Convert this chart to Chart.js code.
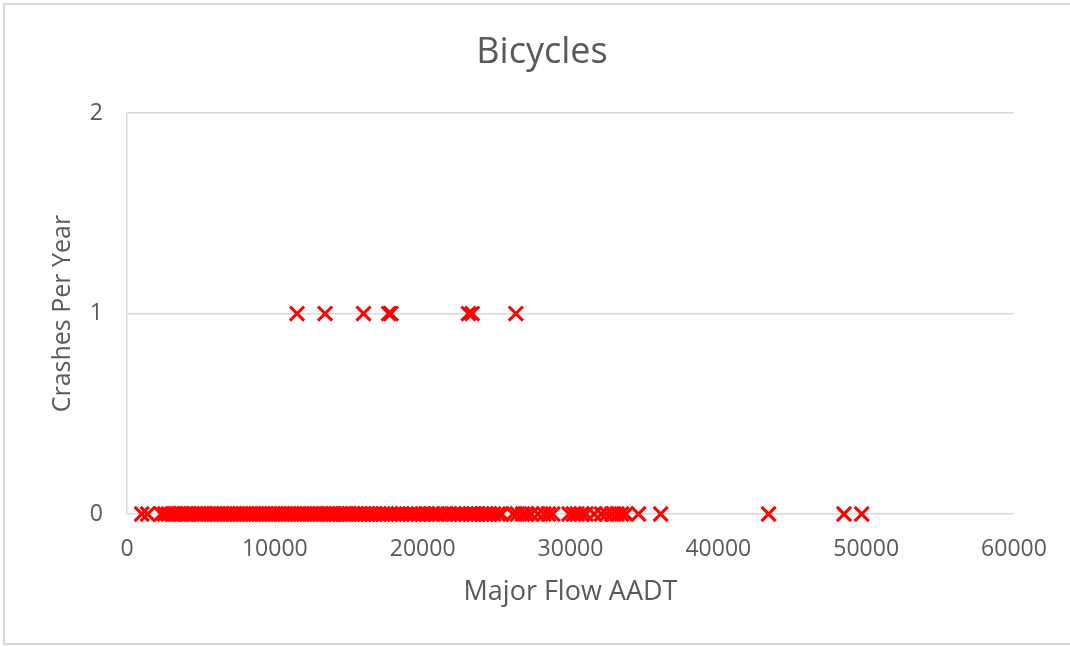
<!DOCTYPE html>
<html lang="en">
<head>
    <meta charset="UTF-8">
    <title>Bicycles</title>
    <script src="https://cdn.jsdelivr.net/npm/chart.js"></script>
    <style>
        html, body {
            margin: 0;
            padding: 0;
            background: #fff;
        }
        .wrap {
            position: relative;
            width: 1070px;
            height: 646px;
        }
        .frame {
            position: absolute;
            left: 3px;
            top: 3px;
            width: 1067px;
            height: 638px;
            border: 2px solid #d9d9d9;
            border-right: none;
            pointer-events: none;
        }
    </style>
</head>
<body>
    <div class="wrap">
        <canvas id="myChart" width="1070" height="646"></canvas>
        <div class="frame"></div>
    </div>

    <script>
        // Sites with no bicycle crashes (Major Flow AADT)
        const zeroAadt = [
            1000, 1400, 2300, 2550, 2800, 3050, 3250, 3500, 3700, 3950, 4150, 4400, 4600, 4850,
            5050, 5250, 5500, 5700, 5950, 6150, 6350, 6600, 6800, 7000, 7250, 7450, 7650, 7900,
            8100, 8300, 8550, 8750, 8950, 9200, 9400, 9600, 9850, 10050, 10250, 10500, 10700,
            10900, 11150, 11350, 11550, 11800, 12000, 12200, 12450, 12650, 12850, 13100, 13300,
            13550, 13750, 13950, 14200, 14400, 14650, 14850, 15050, 15300, 15550, 15800, 16050,
            16300, 16550, 16800, 17050, 17300, 17550, 17850, 18100, 18350, 18600, 18900, 19150,
            19400, 19700, 20000, 20300, 20600, 20900, 21150, 21500, 21800, 22100, 22400, 22650,
            22950, 23250, 23500, 23750, 24000, 24250, 24500, 24800, 25100, 25350, 26100, 26400,
            26750, 27050, 27350, 27800, 28200, 28500, 28800, 29900, 30200, 30450, 30750, 31050,
            31600, 32100, 32450, 32800, 33150, 33450, 33750, 34600, 36100, 43400, 48500, 49700
        ];
        // Sites with one bicycle crash per year
        const oneAadt = [11500, 13400, 16000, 17700, 17850, 23100, 23350, 26300];
        const zeroCrashes = zeroAadt.map(() => 0);
        const oneCrashes = oneAadt.map(() => 1);

        const xTicks = [0, 10000, 20000, 30000, 40000, 50000, 60000];
        const yTicks = [0, 1, 2];

        const textColor = '#595959';
        const gridColor = '#d9d9d9';
        const markerColor = '#ff0000';

        function toPoints(xs, ys) {
            return xs.map((x, i) => ({ x: x, y: ys[i] }));
        }

        const markerStyle = {
            pointStyle: 'crossRot',
            pointRadius: 10,
            pointHoverRadius: 10,
            borderColor: markerColor,
            backgroundColor: markerColor,
            pointBorderWidth: 3,
            clip: false
        };

        let ctx = document.getElementById('myChart').getContext('2d');
        let myChart = new Chart(ctx, {
            type: 'scatter',
            data: {
                datasets: [
                    Object.assign({ label: '0 crashes', data: toPoints(zeroAadt, zeroCrashes) }, markerStyle),
                    Object.assign({ label: '1 crash', data: toPoints(oneAadt, oneCrashes) }, markerStyle)
                ]
            },
            options: {
                responsive: false,
                animation: false,
                layout: {
                    padding: { left: 14, right: 0, top: 0, bottom: 0 }
                },
                plugins: {
                    legend: { display: false },
                    tooltip: { enabled: false },
                    title: {
                        display: true,
                        text: 'Bicycles',
                        color: textColor,
                        font: { family: 'Open Sans', size: 36, weight: 'normal' },
                        padding: { top: 31, bottom: 39 }
                    }
                },
                scales: {
                    x: {
                        type: 'linear',
                        min: xTicks[0],
                        max: xTicks[xTicks.length - 1],
                        afterFit: s => { s.height = 132; },
                        afterBuildTicks: s => { s.ticks = xTicks.map(v => ({ value: v })); },
                        grid: { display: false, drawTicks: false },
                        border: { display: false },
                        ticks: {
                            color: textColor,
                            font: { family: 'Open Sans', size: 23 },
                            padding: 22,
                            maxRotation: 0,
                            callback: v => String(v)
                        },
                        title: {
                            display: true,
                            text: 'Major Flow AADT',
                            color: textColor,
                            font: { family: 'Open Sans', size: 27 },
                            padding: { top: 0, bottom: 37 }
                        }
                    },
                    y: {
                        type: 'linear',
                        position: 'left',
                        min: yTicks[0],
                        max: yTicks[yTicks.length - 1],
                        afterFit: s => { s.width = 113; },
                        afterBuildTicks: s => { s.ticks = yTicks.map(v => ({ value: v })); },
                        grid: { color: gridColor, lineWidth: 1.5, drawTicks: false },
                        border: { display: true, color: gridColor, width: 1.5 },
                        ticks: {
                            color: textColor,
                            font: { family: 'Open Sans', size: 23 },
                            padding: 24,
                            callback: v => String(v)
                        },
                        title: {
                            display: true,
                            text: 'Crashes Per Year',
                            color: textColor,
                            font: { family: 'Open Sans', size: 25 },
                            padding: { top: 34, bottom: 0 }
                        }
                    },
                    // empty spacer on the right so the title stays centred on the page
                    yRight: {
                        type: 'linear',
                        position: 'right',
                        min: 0,
                        max: 2,
                        afterFit: s => { s.width = 56; },
                        grid: { display: false, drawTicks: false },
                        border: { display: false },
                        ticks: { display: false }
                    }
                }
            }
        });
    </script>
</body>
</html>
